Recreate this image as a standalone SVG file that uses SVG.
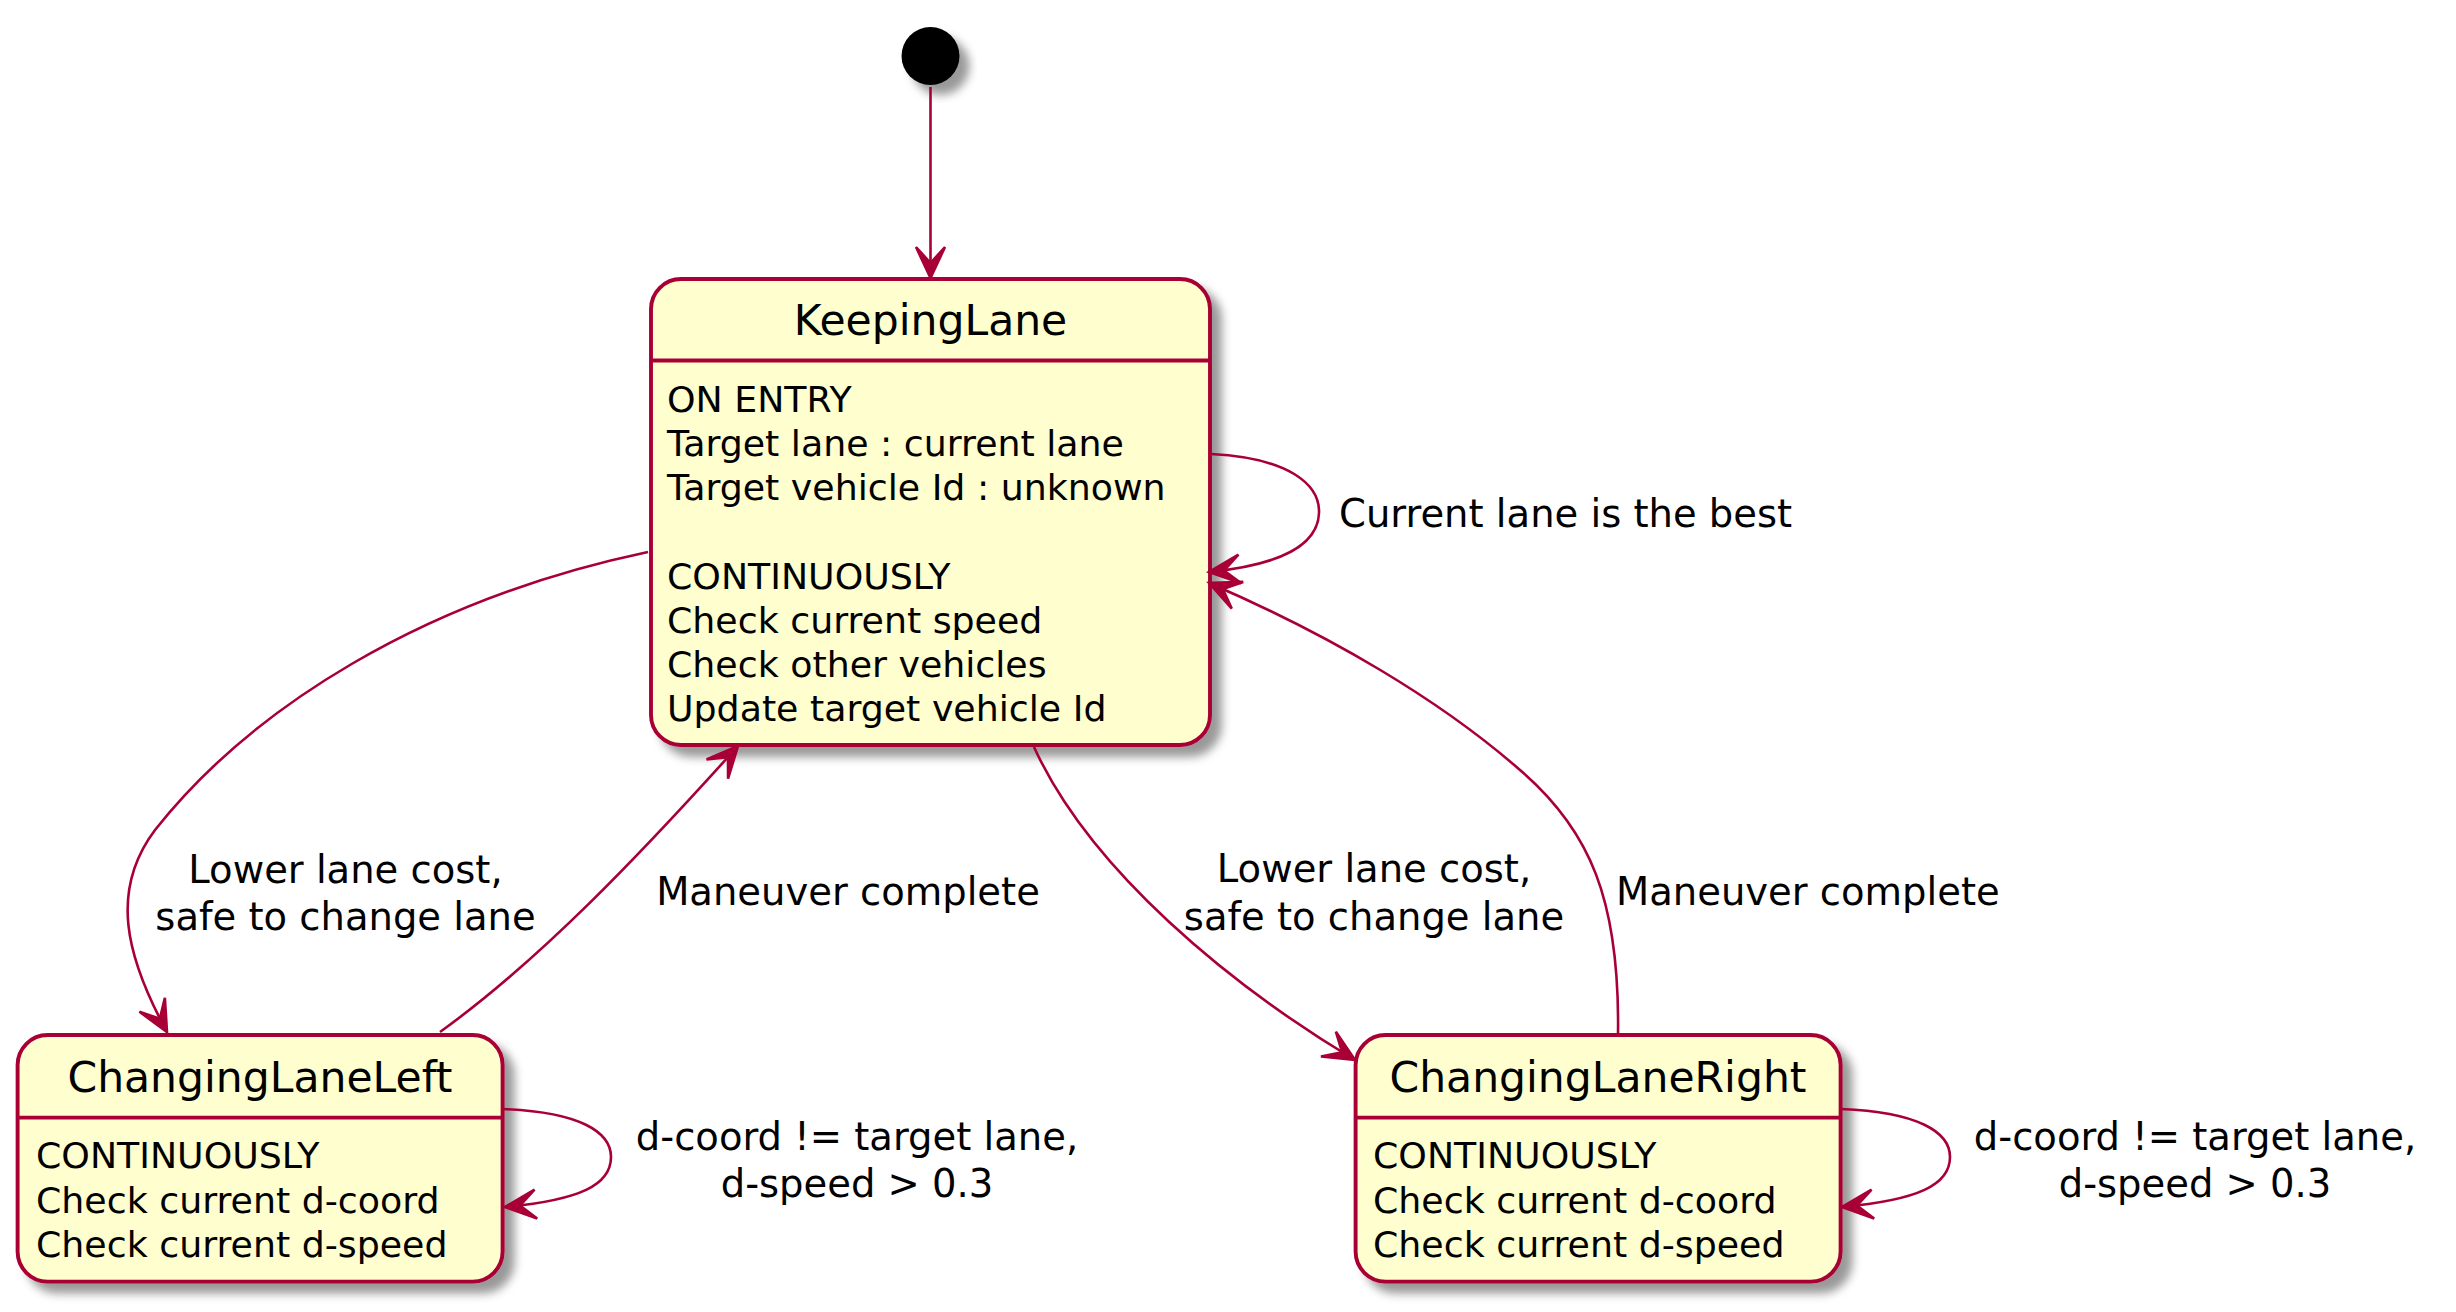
<svg xmlns="http://www.w3.org/2000/svg" width="2456" height="1312" viewBox="0 0 2456 1312">
<style>
.state{fill:#FEFECE;stroke:#A80036;stroke-width:3.9;filter:url(#shadow)}
.sep{stroke:#A80036;stroke-width:3.9}
.title{font-family:"DejaVu Sans",sans-serif;font-size:42.5px;fill:#000;text-anchor:middle}
.body{font-family:"DejaVu Sans",sans-serif;font-size:36.3px;fill:#000}
.lbl{font-family:"DejaVu Sans",sans-serif;font-size:38.5px;fill:#000}
.mid{text-anchor:middle}
.edge{fill:none;stroke:#A80036;stroke-width:2.6;marker-end:url(#arrow)}
</style>
<defs>
<filter id="shadow" x="-20%" y="-20%" width="150%" height="150%">
<feGaussianBlur in="SourceGraphic" stdDeviation="5" result="b"/>
<feColorMatrix in="b" type="matrix" values="0 0 0 0 0  0 0 0 0 0  0 0 0 0 0  0 0 0 .4 0" result="b2"/>
<feOffset in="b2" dx="10" dy="10" result="b3"/>
<feBlend in="SourceGraphic" in2="b3" mode="normal"/>
</filter>
<marker id="arrow" markerUnits="userSpaceOnUse" orient="auto" refX="0" refY="0" markerWidth="40" markerHeight="40" overflow="visible">
<path d="M0,0 L-31,-14.5 L-15,0 L-31,14.5 Z" fill="#A80036" stroke="#A80036" stroke-width="2.6" stroke-linejoin="miter"/>
</marker>
</defs>

<g id="start">
<circle cx="930.5" cy="56" r="29" fill="#000" filter="url(#shadow)"/>
</g>

<g id="KeepingLane">
<rect class="state" x="651" y="279" width="559" height="466" rx="30" ry="30"/>
<line class="sep" x1="651" y1="360.5" x2="1210" y2="360.5"/>
<text class="title" x="930.5" y="335">KeepingLane</text>
<text class="body" x="667" y="412">ON ENTRY</text>
<text class="body" x="667" y="456.2">Target lane : current lane</text>
<text class="body" x="667" y="500.4">Target vehicle Id : unknown</text>
<text class="body" x="667" y="588.8">CONTINUOUSLY</text>
<text class="body" x="667" y="633">Check current speed</text>
<text class="body" x="667" y="677.2">Check other vehicles</text>
<text class="body" x="667" y="721.4">Update target vehicle Id</text>
</g>

<g id="ChangingLaneLeft">
<rect class="state" x="17.6" y="1035" width="485" height="246.6" rx="30" ry="30"/>
<line class="sep" x1="17.6" y1="1117.6" x2="502.6" y2="1117.6"/>
<text class="title" x="260" y="1092">ChangingLaneLeft</text>
<text class="body" x="36" y="1168.4">CONTINUOUSLY</text>
<text class="body" x="36" y="1212.6">Check current d-coord</text>
<text class="body" x="36" y="1256.8">Check current d-speed</text>
</g>

<g id="ChangingLaneRight">
<rect class="state" x="1355.6" y="1035" width="485" height="246.6" rx="30" ry="30"/>
<line class="sep" x1="1355.6" y1="1117.6" x2="1840.6" y2="1117.6"/>
<text class="title" x="1598" y="1092">ChangingLaneRight</text>
<text class="body" x="1373" y="1168.4">CONTINUOUSLY</text>
<text class="body" x="1373" y="1212.6">Check current d-coord</text>
<text class="body" x="1373" y="1256.8">Check current d-speed</text>
</g>

<g id="connectors">
<path class="edge" d="M930.5,87 L930.5,278"/>
<path class="edge" d="M1211,454 C1290,458 1320,485 1319,513 C1318,545 1280,565 1209,572"/>
<path class="edge" d="M648,552 C420,600 250,710 155,830 C110,890 125,955 167,1032"/>
<path class="edge" d="M440,1032 C540,960 640,855 738,746"/>
<path class="edge" d="M1034,747 C1090,870 1230,985 1355,1060"/>
<path class="edge" d="M1618,1035 C1620,900 1590,830 1520,770 C1440,700 1330,635 1209,583"/>
<path class="edge" d="M503,1109 C580,1112 611,1132 611,1157 C611,1185 580,1200 505,1207"/>
<path class="edge" d="M1841,1109 C1918,1112 1950,1132 1950,1157 C1950,1185 1918,1200 1842,1207"/>
<text class="lbl" x="1339" y="527">Current lane is the best</text>
<text class="lbl mid" x="345.5" y="883">Lower lane cost,</text>
<text class="lbl mid" x="345.5" y="930">safe to change lane</text>
<text class="lbl mid" x="848" y="905">Maneuver complete</text>
<text class="lbl mid" x="1374" y="882">Lower lane cost,</text>
<text class="lbl mid" x="1374" y="930">safe to change lane</text>
<text class="lbl" x="1616" y="905">Maneuver complete</text>
<text class="lbl mid" x="857" y="1150">d-coord != target lane,</text>
<text class="lbl mid" x="857" y="1197">d-speed &gt; 0.3</text>
<text class="lbl mid" x="2195" y="1150">d-coord != target lane,</text>
<text class="lbl mid" x="2195" y="1197">d-speed &gt; 0.3</text>
</g>
</svg>
